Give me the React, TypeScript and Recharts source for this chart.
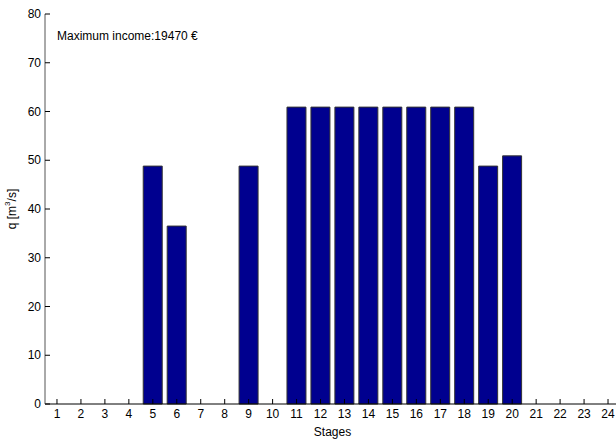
import { BarChart, Bar, XAxis, YAxis } from 'recharts'

const stages = ['1', '2', '3', '4', '5', '6', '7', '8', '9', '10', '11', '12', '13', '14', '15', '16', '17', '18', '19', '20', '21', '22', '23', '24']
const flows = [0, 0, 0, 0, 48.8, 36.5, 0, 0, 48.8, 0, 60.9, 60.9, 60.9, 60.9, 60.9, 60.9, 60.9, 60.9, 48.8, 50.9, 0, 0, 0, 0]
const yTicks = [0, 10, 20, 30, 40, 50, 60, 70, 80]

const font = '"Liberation Sans", Arial, sans-serif'

const data = stages.map((s, i) => ({ stage: s, q: flows[i] }))

const XTick = (props: any) => {
  const { x, y, payload } = props
  return (
    <g>
      <line x1={x} x2={x} y1={y} y2={y - 5} stroke="#000" strokeWidth={1} />
      <text x={x} y={y + 10} textAnchor="middle" dominantBaseline="central" fontSize={12} fontFamily={font} fill="#000">
        {payload.value}
      </text>
    </g>
  )
}

const YTick = (props: any) => {
  const { x, y, payload } = props
  return (
    <g>
      <line x1={x} x2={x + 5} y1={y} y2={y} stroke="#000" strokeWidth={1} />
      <text x={x - 4} y={y} textAnchor="end" dominantBaseline="central" fontSize={12} fontFamily={font} fill="#000">
        {payload.value}
      </text>
    </g>
  )
}

const YLabel = (props: any) => {
  const vb = props.viewBox
  const cx = 12
  const cy = vb.y + vb.height / 2
  return (
    <text x={cx} y={cy} transform={`rotate(-90 ${cx} ${cy})`} textAnchor="middle" dominantBaseline="central" fontSize={12} fontFamily={font} fill="#000">
      q [m<tspan dy={-5} fontSize={8}>3</tspan><tspan dy={5}>/s]</tspan>
    </text>
  )
}

export default function App() {
  return (
    <div style={{ position: 'absolute', left: 0, top: 0, width: 616, height: 439, overflow: 'hidden', background: '#fff' }}>
      <BarChart width={630} height={439} data={data} margin={{ top: 14, right: 10, bottom: 0, left: 0 }} barCategoryGap="10%">
        <XAxis
          dataKey="stage"
          interval={0}
          height={35}
          tickSize={0}
          tickMargin={0}
          tickLine={false}
          tick={<XTick />}
          axisLine={{ stroke: '#000' }}
          label={{ value: 'Stages', position: 'insideBottom', offset: 3, fontSize: 12, fontFamily: font, fill: '#000' }}
        />
        <YAxis
          domain={[0, 80]}
          ticks={yTicks}
          width={45}
          tickSize={0}
          tickMargin={0}
          tickLine={false}
          tick={<YTick />}
          axisLine={{ stroke: '#555' }}
          label={<YLabel />}
          interval={0}
        />
        <Bar dataKey="q" fill="#00008f" stroke="#333" strokeWidth={1} isAnimationActive={false} />
      </BarChart>
      <div style={{ position: 'absolute', left: 57, top: 29, fontSize: 12, fontFamily: font, color: '#000', whiteSpace: 'nowrap' }}>
        Maximum income:19470 €
      </div>
    </div>
  )
}
